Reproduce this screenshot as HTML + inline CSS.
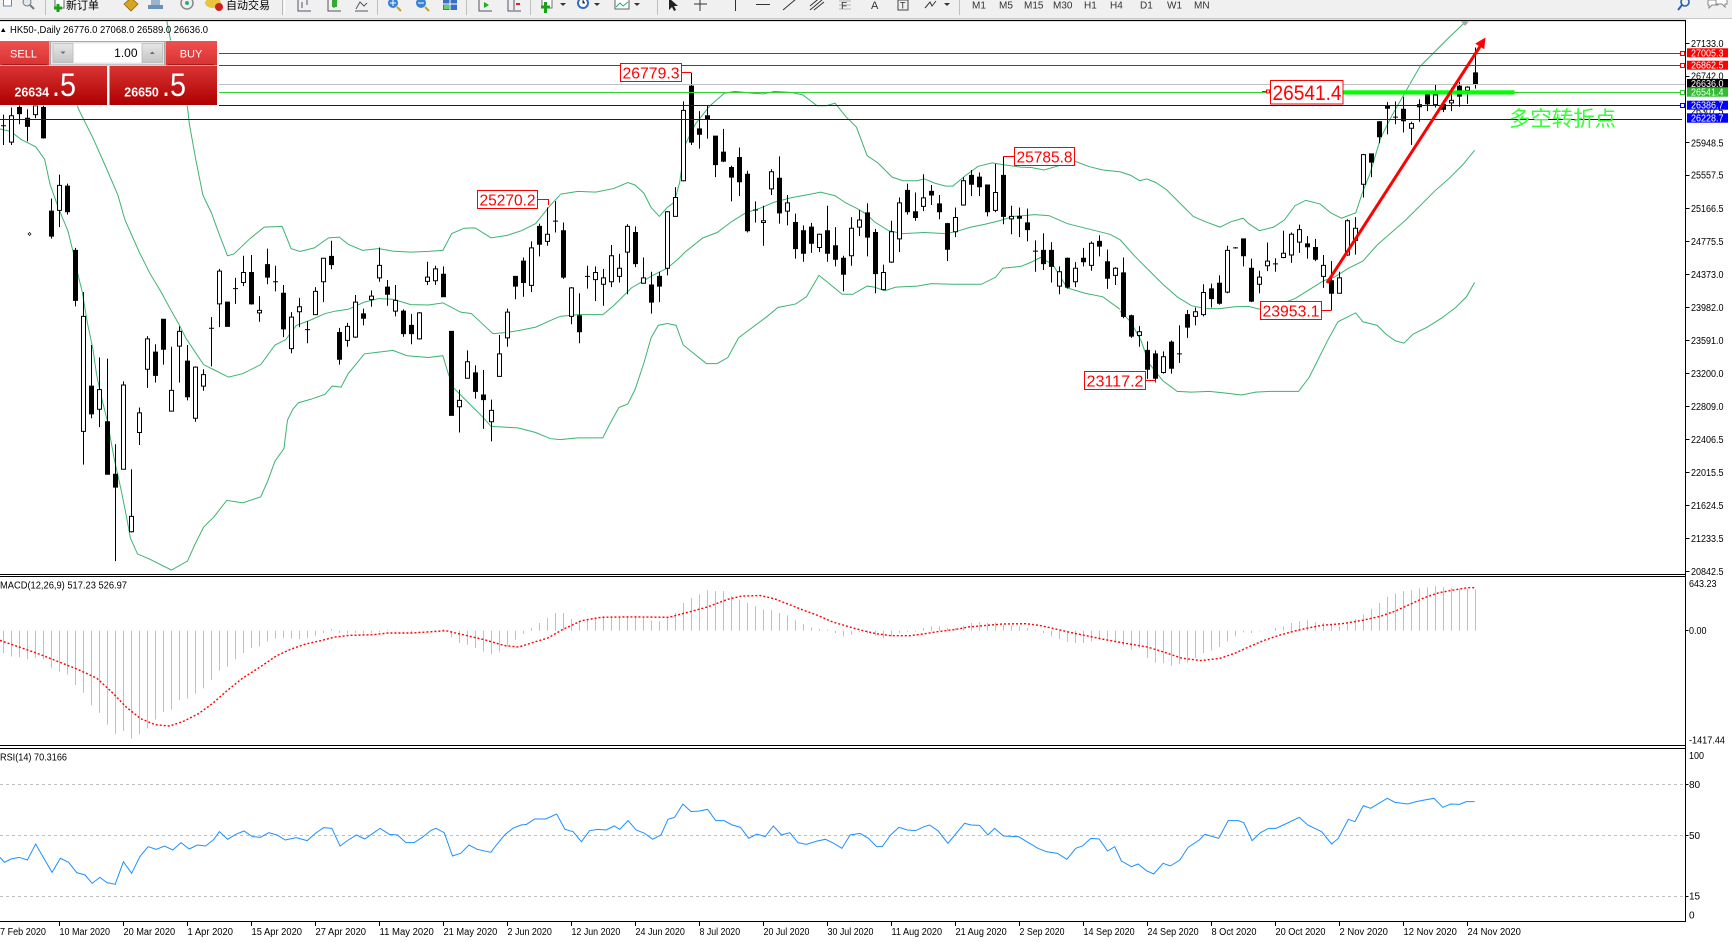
<!DOCTYPE html>
<html><head><meta charset="utf-8">
<style>
html,body{margin:0;padding:0;background:#fff;}
svg{display:block;}
text{font-family:"Liberation Sans","Noto Sans CJK SC",sans-serif;}
.ns *{vector-effect:non-scaling-stroke;}
</style></head>
<body>
<svg width="1732" height="942" viewBox="0 0 1732 942" xmlns="http://www.w3.org/2000/svg">
<defs>
<clipPath id="cm"><rect x="0" y="21" width="1685" height="553"/></clipPath>
<clipPath id="cr"><rect x="0" y="749" width="1685" height="172"/></clipPath>
<linearGradient id="gb" x1="0" y1="0" x2="0" y2="1"><stop offset="0" stop-color="#f05050"/><stop offset="1" stop-color="#d83232"/></linearGradient>
<linearGradient id="gk" x1="0" y1="0" x2="0" y2="1"><stop offset="0" stop-color="#d93434"/><stop offset="1" stop-color="#ae0000"/></linearGradient>
<linearGradient id="gs" x1="0" y1="0" x2="0" y2="1"><stop offset="0" stop-color="#e6e6e6"/><stop offset="1" stop-color="#c4c4c4"/></linearGradient>
</defs>
<rect width="1732" height="942" fill="#fff"/>

<!-- toolbar -->
<rect x="0" y="0" width="1732" height="18" fill="#f0f0f0"/>
<line x1="0" y1="18.5" x2="1732" y2="18.5" stroke="#c8c8c8"/>
<rect x="3.5" y="-3" width="8" height="9" fill="#fff" stroke="#6688aa"/>
<circle cx="27" cy="2" r="4" fill="#dde8f4" stroke="#777"/><line x1="30" y1="5" x2="34" y2="9" stroke="#777" stroke-width="2"/>
<line x1="45.5" y1="0" x2="45.5" y2="15" stroke="#c0c0c0"/>
<rect x="55" y="-2" width="9" height="10" fill="#fff" stroke="#666"/>
<path d="M54 8h8M58 4v8" stroke="#1aa01a" stroke-width="3"/>
<text x="66" y="9" font-size="11" fill="#000">新订单</text>
<path d="M124 4l7-6 7 6-7 7z" fill="#d9a520" stroke="#8a6a10" stroke-width="0.8"/>
<path d="M148 5h15v4h-15z" fill="#6c8fb8"/><rect x="151" y="-2" width="9" height="7" fill="#9bb3cf"/>
<circle cx="187" cy="3" r="6" fill="none" stroke="#888" stroke-width="1.5"/><circle cx="187" cy="3" r="2" fill="#3a7"/>
<ellipse cx="213" cy="3" rx="8" ry="5" fill="#e8c440"/><circle cx="219" cy="7" r="4" fill="#d02020"/>
<text x="226" y="9" font-size="11" fill="#000">自动交易</text>
<line x1="282.5" y1="0" x2="282.5" y2="15" stroke="#b8b8b8"/><line x1="284.5" y1="0" x2="284.5" y2="15" stroke="#fff"/>
<path d="M298 0v11h13M302 2v6M307 0v5" stroke="#556" fill="none"/>
<path d="M328 0v11h13M334 0v8" stroke="#556" fill="none"/><rect x="332" y="-1" width="5" height="8" fill="#3a3"/>
<path d="M355 11h13M356 9l4-7 4 4 3-3" stroke="#556" fill="none"/>
<line x1="377.5" y1="0" x2="377.5" y2="15" stroke="#c0c0c0"/>
<circle cx="393" cy="3" r="5" fill="#3b82d0"/><path d="M390 3h6M393 0v6" stroke="#fff"/><line x1="397" y1="7" x2="401" y2="11" stroke="#c9a020" stroke-width="2"/>
<circle cx="421" cy="3" r="5" fill="#3b82d0"/><path d="M418 3h6" stroke="#fff"/><line x1="425" y1="7" x2="429" y2="11" stroke="#c9a020" stroke-width="2"/>
<rect x="443" y="-2" width="14" height="12" fill="#3b6fc0"/><path d="M443 4h14M450 -2v12" stroke="#fff"/><rect x="444" y="5" width="5" height="4" fill="#6c6"/>
<line x1="466.5" y1="0" x2="466.5" y2="15" stroke="#c0c0c0"/>
<path d="M479 0v11h13" stroke="#556" fill="none"/><path d="M484 2l5 3-5 3z" fill="#2a2"/>
<path d="M508 0v11h13M514 0v10" stroke="#556" fill="none"/><path d="M516 4h4" stroke="#d22" stroke-width="2"/>
<line x1="530.5" y1="0" x2="530.5" y2="15" stroke="#c0c0c0"/>
<rect x="542" y="-2" width="10" height="10" fill="#fff" stroke="#777"/><path d="M541 7h9M545.5 2v11" stroke="#1aa01a" stroke-width="3"/>
<path d="M560 3l3 3 3-3z" fill="#333"/>
<circle cx="583" cy="3" r="6" fill="#2f6fc4"/><circle cx="583" cy="3" r="4" fill="#fff"/><path d="M583 0v3h2" stroke="#333"/>
<path d="M594 3l3 3 3-3z" fill="#333"/>
<rect x="615" y="-2" width="14" height="11" fill="#fff" stroke="#666"/><path d="M616 7l4-4 3 3 5-4" stroke="#2a7" fill="none"/>
<path d="M634 3l3 3 3-3z" fill="#333"/>
<line x1="657.5" y1="0" x2="657.5" y2="15" stroke="#c0c0c0"/>
<path d="M669 -2v12l3-3 2 4 2-1-2-4h4z" fill="#222"/>
<path d="M700 -2v13M694 4h13" stroke="#333"/>
<line x1="735.5" y1="-2" x2="735.5" y2="11" stroke="#333"/>
<line x1="756" y1="4.5" x2="770" y2="4.5" stroke="#333"/>
<line x1="783" y1="10" x2="796" y2="-1" stroke="#333"/>
<path d="M810 10l12-10M810 6l12-10M814 10l10-8" stroke="#333" fill="none"/>
<text x="841" y="9" font-size="10" fill="#333">F</text><path d="M839 1h12M839 5h12M839 9h12" stroke="#777" stroke-width="0.6"/>
<text x="871" y="9" font-size="11" fill="#333">A</text>
<rect x="898" y="0" width="10" height="10" fill="none" stroke="#444"/><text x="900" y="8.5" font-size="9" fill="#333">T</text>
<path d="M925 8l5-6 2 4 4-5" stroke="#333" fill="none"/><path d="M944 3l3 3 3-3z" fill="#333"/>
<line x1="959.5" y1="0" x2="959.5" y2="15" stroke="#c0c0c0"/>
<g font-size="10" fill="#333"><text x="972" y="8.5">M1</text><text x="999" y="8.5">M5</text><text x="1024" y="8.5">M15</text><text x="1053" y="8.5">M30</text><text x="1084" y="8.5">H1</text><text x="1110" y="8.5">H4</text><text x="1140" y="8.5">D1</text><text x="1167" y="8.5">W1</text><text x="1194" y="8.5">MN</text></g>
<circle cx="1685" cy="2" r="4" fill="none" stroke="#2f5fb0" stroke-width="1.6"/><line x1="1682" y1="5" x2="1678" y2="10" stroke="#2f5fb0" stroke-width="2"/>
<path d="M1708 0h10v5h-6l-3 3v-3h-1z" fill="#fff" stroke="#888"/><path d="M1716 -1h11v5h-2v3l-3-3h-6z" fill="#fff" stroke="#888"/>
<line x1="0" y1="20.5" x2="1686" y2="20.5" stroke="#000" stroke-width="1.3"/>

<!-- main chart -->
<g clip-path="url(#cm)">
 <g class="ns" fill="none" stroke="#3cb371" stroke-width="1">
  <g transform="translate(0,20) scale(0.357143)">
   <polyline points="455,-60 490,120 525,245 530,290 548,390 568,490 592,540 610,590 637,660 655,655 700,612 740,580 790,578 815,640 840,648 880,638 920,610 950,608 975,628 1015,645 1060,640 1100,647 1150,650 1200,648 1240,645 1265,598 1300,583 1330,582 1375,610 1420,603 1460,590 1500,570 1540,520 1568,490"/>
   <polyline points="180,130 220,250 240,290 260,330 300,420 330,490 350,560 390,650 420,710 450,760 480,815 500,850 520,890 540,920 570,965 600,980 640,1000 680,990 730,965 770,910 800,895 830,855 870,840 910,822 940,815 975,810 1020,790 1060,780 1100,782 1150,797 1200,798 1240,792 1290,818 1320,822 1350,850 1380,878 1420,875 1460,868 1500,860 1540,842 1568,830"/>
   <polyline points="0,305 30,312 60,335 80,345 100,355 125,390 140,460 165,530 190,590 205,650 215,700 230,760 245,850 260,920 270,990 280,1040 290,1080 300,1120 320,1230 340,1320 355,1395 365,1450 385,1495 420,1510 480,1540 525,1515 545,1470 570,1420 600,1390 635,1345 680,1352 730,1335 750,1290 770,1235 795,1200 805,1120 820,1090 835,1072 870,1062 910,1048 930,1025 955,1028 975,990 1000,960 1020,935 1060,930 1100,925 1140,940 1200,945 1240,940 1255,990 1270,1030 1290,1050 1320,1080 1350,1110 1375,1138 1450,1142 1500,1155 1540,1172 1568,1175"/>
  </g>
  <g transform="translate(560,20) scale(0.357143)">
   <polyline points="0,488 50,480 100,482 150,472 190,455 210,462 235,485 255,525 278,550 300,525 320,510 335,455 350,350 380,290 420,240 460,205 490,200 540,205 570,207 600,200 650,203 680,210 720,240 745,240 770,233 800,270 830,300 860,380 890,400 930,440 960,450 1000,450 1020,445 1050,457 1080,465 1100,465 1130,440 1170,410 1210,400 1240,405 1290,412 1320,413 1355,420 1390,410 1440,395 1480,410 1520,420 1568,425"/>
   <polyline points="0,830 50,825 120,825 150,800 200,750 260,715 300,695 330,670 350,650 400,610 440,595 480,565 520,540 560,527 600,510 650,497 700,488 730,482 770,492 800,512 830,527 860,545 880,565 920,590 960,598 1020,595 1080,598 1110,592 1150,580 1190,572 1230,562 1270,550 1330,545 1370,548 1420,570 1480,585 1540,600 1568,615"/>
   <polyline points="0,1175 50,1170 120,1170 140,1130 165,1085 190,1075 210,1035 235,960 255,890 275,855 300,850 325,855 345,910 370,930 410,962 440,962 470,945 500,890 540,860 580,830 610,805 660,795 690,775 725,715 750,735 790,768 820,768 860,745 880,748 910,758 940,748 1000,745 1040,738 1100,740 1180,740 1220,720 1240,695 1290,690 1320,678 1345,665 1380,685 1420,750 1470,765 1520,775 1568,810"/>
  </g>
  <g transform="translate(1120,20) scale(0.357143)">
   <polyline points="0,425 30,435 55,450 75,445 100,455 130,475 160,505 180,525 205,550 240,565 280,580 310,565 345,555 360,570 390,590 430,580 460,560 490,520 520,505 560,515 590,540 620,555 660,540 680,480 700,430 730,330 760,270 800,200 840,130 880,90 920,50 960,12 995,-30"/>
   <polyline points="0,615 40,660 80,700 120,740 160,775 200,800 240,808 280,808 320,803 360,802 400,812 450,795 490,780 530,755 570,730 600,720 640,695 680,675 720,630 760,595 800,560 840,520 880,480 920,445 960,405 993,365"/>
   <polyline points="0,815 30,845 60,900 80,960 120,1010 160,1040 200,1042 250,1040 300,1045 340,1050 380,1042 420,1040 500,1040 530,1000 550,960 580,900 610,845 640,830 660,820 680,845 720,855 745,880 770,898 795,905 820,880 860,860 900,835 940,805 970,775 993,735"/>
  </g>
 </g>

 <!-- candles -->
 <g class="ns" transform="translate(0,20) scale(1,0.357143)" stroke="#000" stroke-width="1">
  <path fill="none" d="M3.5 265V350M11.5 245V350M19.5 238V292M27.5 250V340M35.5 238V275M43.5 240V332M51.5 500V612M59.5 433V580M67.5 458V545M75.5 638V802M83.5 762V1245M91.5 910V1115M99.5 945V1140M107.5 948V1272M115.5 1188V1515M123.5 1012V1258M131.5 1258V1435M139.5 1085V1190M147.5 885V1030M155.5 908V1015M163.5 838V965M171.5 915V1095M179.5 858V1015M187.5 910V1065M195.5 970V1125M203.5 978V1038M211.5 832V970M219.5 697V860M227.5 790V858M235.5 722V795M243.5 660V745M251.5 658V797M259.5 773V845M267.5 640V740M275.5 688V760M283.5 742V888M291.5 818V933M299.5 778V860M307.5 843V905M315.5 748V825M323.5 667V790M331.5 618V698M339.5 862V965M347.5 848V915M355.5 770V890M363.5 808V855M371.5 757V803M379.5 637V733M387.5 728V800M395.5 742V830M403.5 810V887M411.5 823V908M419.5 818V895M427.5 677V742M435.5 688V742M443.5 690V775M451.5 872V1107M459.5 1035V1155M467.5 925V1003M475.5 967V1060M483.5 980V1145M491.5 1063V1180M499.5 882V998M507.5 808V915M515.5 718V782M523.5 665V775M531.5 620V762M539.5 570V662M547.5 525V632M555.5 507V595M563.5 567V725M571.5 748V852M579.5 765V905M587.5 688V752M595.5 690V787M603.5 697V800M611.5 630V748M619.5 655V735M627.5 572V768M635.5 578V692M643.5 665V737M651.5 705V822M659.5 705V790M667.5 535V715M675.5 468V550M683.5 228V452M691.5 148V350M699.5 255V360M707.5 240V332M715.5 325V440M723.5 305V398M731.5 408V508M739.5 357V493M747.5 422V595M755.5 508V567M763.5 520V632M771.5 418V490M779.5 382V570M787.5 490V575M795.5 542V668M803.5 575V677M811.5 568V652M819.5 598V650M827.5 520V677M835.5 580V690M843.5 660V760M851.5 552V688M859.5 532V605M867.5 513V662M875.5 585V765M883.5 685V757M891.5 562V680M899.5 497V650M907.5 458V545M915.5 483V562M923.5 432V535M931.5 462V518M939.5 490V558M947.5 568V675M955.5 525V608M963.5 440V520M971.5 420V493M979.5 427V493M987.5 462V550M995.5 403V538M1003.5 382V572M1011.5 520V600M1019.5 525V608M1027.5 528V620M1035.5 617V705M1043.5 597V700M1051.5 622V735M1059.5 690V768M1067.5 665V752M1075.5 678V748M1083.5 638V690M1091.5 620V702M1099.5 603V662M1107.5 643V753M1115.5 692V742M1123.5 665V835M1131.5 825V890M1139.5 857V915M1147.5 900V1005M1155.5 925V1015M1163.5 928V990M1171.5 897V990M1179.5 855V960M1187.5 812V890M1195.5 805V855M1203.5 740V830M1211.5 738V805M1219.5 715V797M1227.5 632V765M1235.5 636V640M1243.5 613V690M1251.5 668V790M1259.5 702V765M1267.5 623V703M1275.5 667V705M1283.5 590V667M1291.5 595V680M1299.5 573V652M1307.5 605V668M1315.5 613V675M1323.5 658V750M1331.5 675V813M1339.5 705V765M1347.5 558V660M1355.5 552V657M1363.5 375V497M1371.5 375V440M1379.5 283V345M1387.5 230V320M1395.5 228V292M1403.5 215V315M1411.5 285V350M1419.5 222V285M1427.5 207V255M1435.5 180V245M1443.5 225V258M1451.5 190V255M1459.5 173V243M1467.5 185V235M1475.5 77V192"/>
  <path fill="none" d="M1 296h5M209 863h5M233 752h5M273 733h5M305 867h5M553 563h5M585 718h5M753 532h5M1033 647h5M1177 935h5M1233 638h5M1273 683h5M1393 272h5"/>
  <path fill="#000" d="M17.5 245h4v17h-4zM25.5 275h4v23h-4zM41.5 245h4v85h-4zM49.5 535h4v70h-4zM65.5 465h4v72h-4zM73.5 645h4v140h-4zM89.5 1025h4v78h-4zM105.5 1125h4v147h-4zM113.5 1272h4v36h-4zM153.5 930h4v65h-4zM161.5 838h4v84h-4zM185.5 955h4v100h-4zM225.5 790h4v68h-4zM249.5 707h4v88h-4zM265.5 685h4v35h-4zM281.5 765h4v100h-4zM329.5 662h4v23h-4zM337.5 875h4v75h-4zM361.5 823h4v12h-4zM385.5 748h4v20h-4zM401.5 815h4v63h-4zM409.5 855h4v23h-4zM441.5 712h4v63h-4zM449.5 872h4v235h-4zM473.5 988h4v52h-4zM481.5 1050h4v13h-4zM513.5 718h4v27h-4zM521.5 675h4v60h-4zM537.5 578h4v50h-4zM561.5 590h4v130h-4zM577.5 828h4v45h-4zM633.5 595h4v87h-4zM649.5 742h4v48h-4zM657.5 718h4v27h-4zM689.5 185h4v157h-4zM697.5 305h4v15h-4zM705.5 268h4v9h-4zM713.5 325h4v80h-4zM721.5 370h4v25h-4zM729.5 413h4v27h-4zM737.5 385h4v68h-4zM745.5 432h4v158h-4zM777.5 443h4v97h-4zM793.5 567h4v73h-4zM801.5 590h4v63h-4zM809.5 580h4v45h-4zM825.5 590h4v63h-4zM833.5 632h4v38h-4zM841.5 667h4v45h-4zM865.5 540h4v68h-4zM873.5 595h4v115h-4zM905.5 477h4v60h-4zM913.5 537h4v16h-4zM929.5 480h4v10h-4zM937.5 515h4v22h-4zM945.5 570h4v72h-4zM969.5 435h4v25h-4zM977.5 440h4v27h-4zM985.5 462h4v75h-4zM1001.5 435h4v115h-4zM1017.5 550h4v5h-4zM1025.5 568h4v19h-4zM1041.5 645h4v37h-4zM1049.5 645h4v45h-4zM1065.5 667h4v81h-4zM1081.5 667h4v10h-4zM1097.5 620h4v13h-4zM1105.5 677h4v46h-4zM1121.5 708h4v122h-4zM1129.5 828h4v57h-4zM1145.5 925h4v53h-4zM1153.5 935h4v68h-4zM1169.5 902h4v73h-4zM1185.5 825h4v35h-4zM1209.5 753h4v27h-4zM1217.5 737h4v56h-4zM1241.5 613h4v47h-4zM1249.5 695h4v92h-4zM1305.5 627h4v8h-4zM1313.5 637h4v33h-4zM1329.5 730h4v35h-4zM1369.5 375h4v23h-4zM1377.5 285h4v42h-4zM1385.5 240h4v7h-4zM1401.5 250h4v32h-4zM1417.5 237h4v6h-4zM1425.5 210h4v25h-4zM1441.5 237h4v13h-4zM1457.5 185h4v28h-4zM1473.5 148h4v32h-4z"/>
  <path fill="#fff" d="M9.5 268h4v74h-4zM33.5 240h4v25h-4zM57.5 463h4v70h-4zM81.5 830h4v322h-4zM97.5 1035h4v55h-4zM121.5 1022h4v236h-4zM129.5 1390h4v43h-4zM137.5 1100h4v55h-4zM145.5 893h4v85h-4zM169.5 1037h4v58h-4zM177.5 872h4v41h-4zM193.5 972h4v143h-4zM201.5 993h4v32h-4zM217.5 703h4v92h-4zM241.5 707h4v28h-4zM257.5 813h4v7h-4zM289.5 832h4v88h-4zM297.5 803h4v14h-4zM313.5 760h4v65h-4zM321.5 667h4v66h-4zM345.5 858h4v39h-4zM353.5 790h4v98h-4zM369.5 773h4v10h-4zM377.5 687h4v35h-4zM393.5 785h4v30h-4zM417.5 820h4v73h-4zM425.5 720h4v12h-4zM433.5 697h4v33h-4zM457.5 1065h4v18h-4zM465.5 957h4v46h-4zM489.5 1093h4v32h-4zM497.5 935h4v63h-4zM505.5 818h4v72h-4zM529.5 638h4v105h-4zM545.5 600h4v20h-4zM569.5 750h4v80h-4zM593.5 707h4v20h-4zM601.5 722h4v18h-4zM609.5 660h4v73h-4zM617.5 695h4v23h-4zM625.5 578h4v72h-4zM641.5 722h4v15h-4zM665.5 537h4v158h-4zM673.5 497h4v53h-4zM681.5 253h4v197h-4zM761.5 562h4v5h-4zM769.5 425h4v48h-4zM785.5 512h4v23h-4zM817.5 600h4v37h-4zM849.5 583h4v77h-4zM857.5 560h4v20h-4zM881.5 707h4v48h-4zM889.5 593h4v85h-4zM897.5 512h4v101h-4zM921.5 498h4v24h-4zM953.5 553h4v40h-4zM961.5 450h4v68h-4zM993.5 483h4v50h-4zM1009.5 550h4v7h-4zM1057.5 705h4v40h-4zM1073.5 695h4v38h-4zM1089.5 625h4v62h-4zM1113.5 695h4v20h-4zM1137.5 873h4v10h-4zM1161.5 943h4v44h-4zM1193.5 817h4v13h-4zM1201.5 763h4v62h-4zM1225.5 645h4v117h-4zM1257.5 720h4v20h-4zM1265.5 675h4v13h-4zM1281.5 653h4v12h-4zM1289.5 600h4v58h-4zM1297.5 587h4v35h-4zM1321.5 687h4v31h-4zM1337.5 722h4v43h-4zM1345.5 562h4v96h-4zM1353.5 583h4v34h-4zM1361.5 377h4v83h-4zM1409.5 290h4v13h-4zM1433.5 210h4v27h-4zM1449.5 225h4v7h-4zM1465.5 188h4v9h-4z"/>
 </g>

 <!-- horizontal lines -->
 <line x1="219" y1="53.5" x2="1682" y2="53.5" stroke="#ff0000"/>
 <line x1="219" y1="65.5" x2="1682" y2="65.5" stroke="#ff0000"/>
 <line x1="219" y1="84.5" x2="1685" y2="84.5" stroke="#c0c0c0"/>
 <line x1="219" y1="92.5" x2="1682" y2="92.5" stroke="#32cd32"/>
 <line x1="219" y1="105.5" x2="1682" y2="105.5" stroke="#0000ff"/>
 <line x1="0" y1="119.5" x2="1682" y2="119.5" stroke="#0000ff"/>
 <rect x="1680.5" y="51.5" width="4" height="4" fill="#fff" stroke="#ff0000"/>
 <rect x="1680.5" y="63.5" width="4" height="4" fill="#fff" stroke="#ff0000"/>
 <rect x="1680.5" y="90.5" width="4" height="4" fill="#fff" stroke="#32cd32"/>
 <rect x="1680.5" y="103.5" width="4" height="4" fill="#fff" stroke="#0000ff"/>

 <!-- thick green line -->
 <rect x="1343" y="90.3" width="171.6" height="4.2" fill="#00ff00"/>

 <!-- price labels -->
 <g fill="#fff" stroke="#ff0000" stroke-width="1">
  <rect x="620.5" y="63.5" width="61" height="18"/>
  <rect x="477.5" y="190.5" width="60" height="18"/>
  <rect x="1014.5" y="147.5" width="60" height="18"/>
  <rect x="1084.5" y="371.5" width="61" height="18"/>
  <rect x="1260.5" y="301.5" width="61" height="18"/>
  <rect x="1270.5" y="80.5" width="72.5" height="23.5"/>
 </g>
 <g stroke="#ff0000" fill="none">
  <path d="M681.5 72.5H691.5"/>
  <path d="M537.5 199.5H548.5V205"/>
  <path d="M1014.5 156.5H1003.5"/>
  <path d="M1145.5 380.5H1155.5V382"/>
  <path d="M1321.5 310.5H1331.5"/>
  <path d="M1262 91.5H1270.5"/>
 </g>
 <rect x="1266.5" y="90" width="3" height="3" fill="#fff" stroke="#ff0000"/>
 <g fill="#ff0000" font-size="16">
  <text x="622.5" y="78.5" textLength="57" lengthAdjust="spacingAndGlyphs">26779.3</text>
  <text x="479.5" y="205.5" textLength="56" lengthAdjust="spacingAndGlyphs">25270.2</text>
  <text x="1016.5" y="162.5" textLength="56" lengthAdjust="spacingAndGlyphs">25785.8</text>
  <text x="1086.5" y="386.5" textLength="57" lengthAdjust="spacingAndGlyphs">23117.2</text>
  <text x="1262.5" y="316.5" textLength="57" lengthAdjust="spacingAndGlyphs">23953.1</text>
  <text x="1272.5" y="100" font-size="21" textLength="69" lengthAdjust="spacingAndGlyphs">26541.4</text>
 </g>

 <!-- Chinese annotation -->
 <text x="1509" y="126" font-size="21" fill="#33ff33" textLength="107" lengthAdjust="spacingAndGlyphs">多空转折点</text>

 <!-- red arrow -->
 <line x1="1327" y1="283" x2="1480" y2="46.5" stroke="#ff0000" stroke-width="3"/>
 <polygon points="1485.5,37.5 1484.2,49.3 1475.2,43.6" fill="#ff0000"/>

 <!-- misc markers -->
 <polygon points="1461,21.5 1469,21.5 1465,26" fill="#a8a8a8"/>
 <path d="M29.5 232.5l1.5 1.5-1.5 1.5-1.5-1.5z" fill="none" stroke="#000" stroke-width="0.7"/>
</g>

<!-- title -->
<polygon points="1,32 5.5,32 3.2,28" fill="#000"/>
<text x="10" y="33" font-size="10" fill="#000" textLength="198" lengthAdjust="spacingAndGlyphs">HK50-,Daily  26776.0 27068.0 26589.0 26636.0</text>

<!-- trade panel -->
<rect x="0" y="40.5" width="218" height="65" fill="#fff"/>
<rect x="0" y="41" width="49.5" height="24.5" fill="url(#gb)"/>
<line x1="2" y1="64.5" x2="47" y2="64.5" stroke="#a51c1c"/>
<text x="23.5" y="57.5" font-size="11" fill="#fff" text-anchor="middle">SELL</text>
<rect x="50.5" y="41.5" width="114" height="23.5" fill="#e6e6e6" stroke="#a8a8a8"/>
<rect x="53" y="43.5" width="20" height="19" fill="url(#gs)" stroke="#b0b0b0" stroke-width="0.6"/>
<path d="M60.5 51.5h5l-2.5 2.5z" fill="#5a6a9a"/>
<rect x="73.5" y="43.5" width="68" height="19" fill="#fff"/>
<text x="137.5" y="57" font-size="12" fill="#000" text-anchor="end">1.00</text>
<rect x="142" y="43.5" width="20.5" height="19" fill="url(#gs)" stroke="#b0b0b0" stroke-width="0.6"/>
<path d="M149.8 54h5l-2.5-2.5z" fill="#5a6a9a"/>
<rect x="165.5" y="41" width="51.5" height="24.5" fill="url(#gb)"/>
<line x1="168" y1="64.5" x2="214" y2="64.5" stroke="#a51c1c"/>
<text x="191" y="57.5" font-size="11" fill="#fff" text-anchor="middle">BUY</text>
<rect x="0" y="66" width="107" height="39" fill="url(#gk)"/>
<rect x="109.5" y="66" width="107.5" height="39" fill="url(#gk)"/>
<g fill="#fff">
 <text x="14.5" y="96.5" font-size="13" font-weight="bold" textLength="34.5" lengthAdjust="spacingAndGlyphs">26634</text>
 <text x="52" y="96" font-size="32" textLength="24" lengthAdjust="spacingAndGlyphs">.5</text>
 <text x="124.3" y="96.5" font-size="13" font-weight="bold" textLength="34.5" lengthAdjust="spacingAndGlyphs">26650</text>
 <text x="162" y="96" font-size="32" textLength="24" lengthAdjust="spacingAndGlyphs">.5</text>
</g>

<!-- panel frames -->
<g stroke="#000" stroke-width="1">
 <line x1="0" y1="574.5" x2="1686" y2="574.5"/>
 <line x1="0" y1="576.5" x2="1686" y2="576.5"/>
 <line x1="0" y1="745.5" x2="1686" y2="745.5"/>
 <line x1="0" y1="748.5" x2="1686" y2="748.5"/>
 <line x1="0" y1="921.5" x2="1686" y2="921.5"/>
 <line x1="1685.5" y1="20" x2="1685.5" y2="922"/>
</g>

<!-- price axis -->
<g stroke="#000">
 <path d="M1685.5 43.5h4M1685.5 76.5h4M1685.5 142.5h4M1685.5 175.5h4M1685.5 208.5h4M1685.5 241.5h4M1685.5 274.5h4M1685.5 307.5h4M1685.5 340.5h4M1685.5 373.5h4M1685.5 406.5h4M1685.5 439.5h4M1685.5 472.5h4M1685.5 505.5h4M1685.5 538.5h4M1685.5 571.5h4M1685.5 630.5h3M1685.5 784.5h3M1685.5 835.5h3M1685.5 896.5h3"/>
</g>
<g font-size="10" fill="#000">
 <text x="1691" y="47" textLength="32.5" lengthAdjust="spacingAndGlyphs">27133.0</text>
 <text x="1691" y="79.5" textLength="32.5" lengthAdjust="spacingAndGlyphs">26742.0</text>
 <text x="1691" y="114.5" textLength="32.5" lengthAdjust="spacingAndGlyphs">26307.5</text>
 <text x="1691" y="146.5" textLength="32.5" lengthAdjust="spacingAndGlyphs">25948.5</text>
 <text x="1691" y="178.5" textLength="32.5" lengthAdjust="spacingAndGlyphs">25557.5</text>
 <text x="1691" y="212" textLength="32.5" lengthAdjust="spacingAndGlyphs">25166.5</text>
 <text x="1691" y="245" textLength="32.5" lengthAdjust="spacingAndGlyphs">24775.5</text>
 <text x="1691" y="278" textLength="32.5" lengthAdjust="spacingAndGlyphs">24373.0</text>
 <text x="1691" y="311" textLength="32.5" lengthAdjust="spacingAndGlyphs">23982.0</text>
 <text x="1691" y="344" textLength="32.5" lengthAdjust="spacingAndGlyphs">23591.0</text>
 <text x="1691" y="377" textLength="32.5" lengthAdjust="spacingAndGlyphs">23200.0</text>
 <text x="1691" y="410" textLength="32.5" lengthAdjust="spacingAndGlyphs">22809.0</text>
 <text x="1691" y="443" textLength="32.5" lengthAdjust="spacingAndGlyphs">22406.5</text>
 <text x="1691" y="476" textLength="32.5" lengthAdjust="spacingAndGlyphs">22015.5</text>
 <text x="1691" y="509" textLength="32.5" lengthAdjust="spacingAndGlyphs">21624.5</text>
 <text x="1691" y="542" textLength="32.5" lengthAdjust="spacingAndGlyphs">21233.5</text>
 <text x="1691" y="575" textLength="32.5" lengthAdjust="spacingAndGlyphs">20842.5</text>
 <text x="1689" y="587" textLength="27.5" lengthAdjust="spacingAndGlyphs">643.23</text>
 <text x="1689" y="634" textLength="17.5" lengthAdjust="spacingAndGlyphs">0.00</text>
 <text x="1689" y="743.5" textLength="36" lengthAdjust="spacingAndGlyphs">-1417.44</text>
 <text x="1689" y="759" textLength="15" lengthAdjust="spacingAndGlyphs">100</text>
 <text x="1689" y="788">80</text>
 <text x="1689" y="839">50</text>
 <text x="1689" y="899.5">15</text>
 <text x="1689" y="918.5">0</text>
</g>
<!-- coloured axis tags -->
<rect x="1687" y="48.3" width="41" height="9" fill="#ff0000"/>
<rect x="1687" y="60.7" width="41" height="9" fill="#ff0000"/>
<rect x="1687" y="79" width="41" height="8.5" fill="#000"/>
<rect x="1687" y="87.7" width="41" height="9" fill="#33bb33"/>
<rect x="1687" y="100.7" width="41" height="9" fill="#0000ff"/>
<rect x="1687" y="113.3" width="41" height="9.4" fill="#0000ff"/>
<g font-size="10" fill="#fff">
 <text x="1691" y="56.3" textLength="32.5" lengthAdjust="spacingAndGlyphs">27005.3</text>
 <text x="1691" y="68.7" textLength="32.5" lengthAdjust="spacingAndGlyphs">26862.5</text>
 <text x="1691" y="86.8" textLength="32.5" lengthAdjust="spacingAndGlyphs">26636.0</text>
 <text x="1691" y="95.7" textLength="32.5" lengthAdjust="spacingAndGlyphs">26541.4</text>
 <text x="1691" y="108.7" textLength="32.5" lengthAdjust="spacingAndGlyphs">26386.7</text>
 <text x="1691" y="121.7" textLength="32.5" lengthAdjust="spacingAndGlyphs">26228.7</text>
</g>

<!-- MACD -->
<text x="0" y="588.5" font-size="10" fill="#000" textLength="127" lengthAdjust="spacingAndGlyphs">MACD(12,26,9) 517.23 526.97</text>
<g transform="translate(0,576) scale(1,0.33557)">
<path fill="none" stroke="#c0c0c0" stroke-width="1" d="M3.5 163V230M11.5 163V240M19.5 163V242M27.5 163V248M35.5 163V245M43.5 163V248M51.5 163V275M59.5 163V285M67.5 163V293M75.5 163V325M83.5 163V348M91.5 163V385M99.5 163V408M107.5 163V443M115.5 163V470M123.5 163V462M131.5 163V485M139.5 163V472M147.5 163V455M155.5 163V428M163.5 163V405M171.5 163V398M179.5 163V370M187.5 163V365M195.5 163V350M203.5 163V335M211.5 163V310M219.5 163V282M227.5 163V270M235.5 163V248M243.5 163V230M251.5 163V215M259.5 163V210M267.5 163V195M275.5 163V187M283.5 163V185M291.5 163V187M299.5 163V188M307.5 163V185M315.5 163V178M323.5 163V170M331.5 163V158M339.5 163V170M347.5 163V172M355.5 163V170M363.5 163V172M371.5 163V170M379.5 163V168M387.5 163V160M395.5 163V165M403.5 163V165M411.5 163V168M419.5 163V165M427.5 163V165M435.5 163V160M443.5 163V158M451.5 163V183M459.5 163V200M467.5 163V205M475.5 163V215M483.5 163V225M491.5 163V233M499.5 163V225M507.5 163V210M515.5 163V190M523.5 163V172M531.5 163V155M539.5 163V140M547.5 163V125M555.5 163V110M563.5 163V110M571.5 163V128M579.5 163V133M587.5 163V130M595.5 163V125M603.5 163V120M611.5 163V120M619.5 163V123M627.5 163V120M635.5 163V118M643.5 163V125M651.5 163V133M659.5 163V135M667.5 163V125M675.5 163V110M683.5 163V80M691.5 163V65M699.5 163V55M707.5 163V42M715.5 163V45M723.5 163V45M731.5 163V60M739.5 163V70M747.5 163V80M755.5 163V90M763.5 163V100M771.5 163V102M779.5 163V110M787.5 163V117M795.5 163V132M803.5 163V143M811.5 163V153M819.5 163V158M827.5 163V160M835.5 163V170M843.5 163V180M851.5 163V175M859.5 163V168M867.5 163V172M875.5 163V178M883.5 163V185M891.5 163V180M899.5 163V170M907.5 163V166M915.5 163V166M923.5 163V155M931.5 163V150M939.5 163V150M947.5 163V155M955.5 163V155M963.5 163V148M971.5 163V140M979.5 163V138M987.5 163V140M995.5 163V138M1003.5 163V145M1011.5 163V148M1019.5 163V150M1027.5 163V155M1035.5 163V160M1043.5 163V170M1051.5 163V180M1059.5 163V188M1067.5 163V197M1075.5 163V200M1083.5 163V200M1091.5 163V195M1099.5 163V190M1107.5 163V192M1115.5 163V195M1123.5 163V208M1131.5 163V220M1139.5 163V215M1147.5 163V245M1155.5 163V258M1163.5 163V260M1171.5 163V267M1179.5 163V262M1187.5 163V258M1195.5 163V245M1203.5 163V230M1211.5 163V222M1219.5 163V212M1227.5 163V195M1235.5 163V180M1243.5 163V168M1251.5 163V170M1259.5 163V165M1267.5 163V165M1275.5 163V155M1283.5 163V150M1291.5 163V140M1299.5 163V135M1307.5 163V132M1315.5 163V138M1323.5 163V140M1331.5 163V145M1339.5 163V150M1347.5 163V140M1355.5 163V128M1363.5 163V115M1371.5 163V98M1379.5 163V80M1387.5 163V62M1395.5 163V52M1403.5 163V45M1411.5 163V42M1419.5 163V37M1427.5 163V34M1435.5 163V30M1443.5 163V33M1451.5 163V35M1459.5 163V38M1467.5 163V37M1475.5 163V40"/>
</g>
<polyline fill="none" stroke="#ff0000" stroke-width="1.4" stroke-dasharray="2 2" points="0,640.4 19.4,647.1 38.8,653.9 58.2,661.6 77.6,669.3 96.9,678.3 111.5,691.8 126,706.9 140.6,718.6 155.1,724.7 169.7,726 184.2,721 198.7,713.6 213.3,702.8 227.8,690.1 242.4,678.3 261.8,665.9 276.3,655.9 290.8,649.2 305.4,644.1 319.9,640.8 334.5,637.1 349,635.4 373.2,634.7 387.8,633 412,633 436.3,631.4 446,630.7 455.6,633 470.2,636.4 484.7,639.8 504.1,645.5 518.7,647.1 533.2,642.4 547.7,638.1 562.3,629.7 581.7,620.6 601.1,617.3 630.1,616.9 668.9,617.3 688.3,612.2 707.7,606.9 727.1,599.5 741.6,596.1 760,595.5 774.5,598.8 789.1,604.5 803.6,610.2 818.2,615.6 832.7,622 847.3,626.3 861.8,630.4 876.3,633.7 890.9,635.7 910.3,635.7 924.8,633.7 939.4,631.4 953.9,629.7 968.4,627 983,625.7 1002.4,624 1026.6,623.7 1041.1,625.7 1055.7,629 1070.2,632.4 1089.6,636.4 1109,640.4 1128.4,643.8 1147.8,647.1 1167.2,653.2 1181.7,658.2 1201.1,660.6 1220.5,658.2 1235,653.2 1249.6,646.5 1264.1,640.4 1278.7,635.4 1293.2,631.4 1307.8,628 1322.3,625.3 1341.7,623.7 1361.1,620.6 1380.5,616.3 1395,611.2 1409.6,604.5 1424.1,597.8 1438.6,592.8 1453.2,590.1 1467.7,587.7 1475.5,587.7"/>

<!-- RSI -->
<text x="0" y="760.5" font-size="10" fill="#000" textLength="67" lengthAdjust="spacingAndGlyphs">RSI(14) 70.3166</text>
<g stroke="#c0c0c0" stroke-dasharray="3 3">
 <line x1="0" y1="784.5" x2="1685" y2="784.5"/>
 <line x1="0" y1="835.5" x2="1685" y2="835.5"/>
 <line x1="0" y1="896.5" x2="1685" y2="896.5"/>
</g>
<g class="ns" fill="none" stroke="#1e90ff" stroke-width="1" clip-path="url(#cr)">
 <g transform="translate(0,740) scale(0.54847,0.33333)">
  <polyline points="0,352 8,367 20,357 35,352 50,360 65,312 80,355 95,397 110,355 125,367 140,398 155,405 168,430 182,412 195,428 210,433 225,365 240,400 255,350 270,320 285,328 300,318 315,330 330,308 345,327 360,315 375,318 390,298 400,275 415,298 430,283 445,273 460,290 475,292 490,278 505,285 520,300 540,293 560,302 575,280 590,263 605,265 620,318 635,300 650,285 665,297 680,280 693,265 710,283 725,285 740,308 755,308 770,292 785,272 795,265 810,278 825,348 840,340 855,315 870,328 895,337 905,315 920,285 935,265 950,255 960,253 975,237 995,237 1015,222 1030,268 1045,275 1060,305 1075,272 1090,268 1105,270 1120,258 1130,268 1145,242 1160,270 1175,280 1190,298 1205,285 1218,238 1230,232 1245,192 1260,215 1275,213 1290,208 1305,242 1320,242 1335,255 1350,262 1365,295 1380,282 1395,290 1410,258 1425,285 1440,278 1455,308 1470,313 1490,303 1505,298 1520,310 1535,325 1550,285 1568,280"/>
 </g>
 <g transform="translate(860,740) scale(0.55617,0.33333)">
  <polyline points="0,280 15,295 30,320 40,320 55,285 70,262 85,270 100,272 115,260 125,255 140,272 158,310 172,282 188,250 200,255 215,256 230,285 242,265 258,288 285,290 300,305 320,325 335,335 355,340 372,358 388,325 400,318 415,295 430,297 445,333 458,320 470,363 488,380 500,372 515,392 528,402 545,370 558,378 575,360 590,322 610,300 620,283 645,295 662,242 680,242 690,248 705,302 720,278 735,265 748,265 765,252 790,232 805,255 830,275 848,312 860,295 878,238 890,245 905,197 918,205 948,175 962,187 985,192 1000,185 1015,180 1032,175 1048,202 1062,192 1078,193 1090,185 1105,185"/>
 </g>
</g>

<!-- date axis -->
<path stroke="#000" d="M59.5 922v4M123.5 922v4M187.5 922v4M251.5 922v4M315.5 922v4M379.5 922v4M443.5 922v4M507.5 922v4M571.5 922v4M635.5 922v4M699.5 922v4M763.5 922v4M827.5 922v4M891.5 922v4M955.5 922v4M1019.5 922v4M1083.5 922v4M1147.5 922v4M1211.5 922v4M1275.5 922v4M1339.5 922v4M1403.5 922v4M1467.5 922v4"/>
<g font-size="10" fill="#000" lengthAdjust="spacingAndGlyphs">
 <text x="0" y="935" textLength="46" lengthAdjust="spacingAndGlyphs">7 Feb 2020</text>
 <text x="59.5" y="935" textLength="50.5" lengthAdjust="spacingAndGlyphs">10 Mar 2020</text>
 <text x="123.5" y="935" textLength="51.6" lengthAdjust="spacingAndGlyphs">20 Mar 2020</text>
 <text x="187.5" y="935" textLength="45.5" lengthAdjust="spacingAndGlyphs">1 Apr 2020</text>
 <text x="251.5" y="935" textLength="50.5" lengthAdjust="spacingAndGlyphs">15 Apr 2020</text>
 <text x="315.5" y="935" textLength="50.5" lengthAdjust="spacingAndGlyphs">27 Apr 2020</text>
 <text x="379.5" y="935" textLength="54.3" lengthAdjust="spacingAndGlyphs">11 May 2020</text>
 <text x="443.5" y="935" textLength="53.8" lengthAdjust="spacingAndGlyphs">21 May 2020</text>
 <text x="507.5" y="935" textLength="44.4" lengthAdjust="spacingAndGlyphs">2 Jun 2020</text>
 <text x="571.5" y="935" textLength="48.8" lengthAdjust="spacingAndGlyphs">12 Jun 2020</text>
 <text x="635.5" y="935" textLength="49.4" lengthAdjust="spacingAndGlyphs">24 Jun 2020</text>
 <text x="699.5" y="935" textLength="40.6" lengthAdjust="spacingAndGlyphs">8 Jul 2020</text>
 <text x="763.5" y="935" textLength="46" lengthAdjust="spacingAndGlyphs">20 Jul 2020</text>
 <text x="827.5" y="935" textLength="46" lengthAdjust="spacingAndGlyphs">30 Jul 2020</text>
 <text x="891.5" y="935" textLength="50.6" lengthAdjust="spacingAndGlyphs">11 Aug 2020</text>
 <text x="955.5" y="935" textLength="51.2" lengthAdjust="spacingAndGlyphs">21 Aug 2020</text>
 <text x="1019.5" y="935" textLength="45" lengthAdjust="spacingAndGlyphs">2 Sep 2020</text>
 <text x="1083.5" y="935" textLength="51.2" lengthAdjust="spacingAndGlyphs">14 Sep 2020</text>
 <text x="1147.5" y="935" textLength="51.2" lengthAdjust="spacingAndGlyphs">24 Sep 2020</text>
 <text x="1211.5" y="935" textLength="45" lengthAdjust="spacingAndGlyphs">8 Oct 2020</text>
 <text x="1275.5" y="935" textLength="50" lengthAdjust="spacingAndGlyphs">20 Oct 2020</text>
 <text x="1339.5" y="935" textLength="48.4" lengthAdjust="spacingAndGlyphs">2 Nov 2020</text>
 <text x="1403.5" y="935" textLength="53.4" lengthAdjust="spacingAndGlyphs">12 Nov 2020</text>
 <text x="1467.5" y="935" textLength="53.4" lengthAdjust="spacingAndGlyphs">24 Nov 2020</text>
</g>
</svg>
</body></html>
